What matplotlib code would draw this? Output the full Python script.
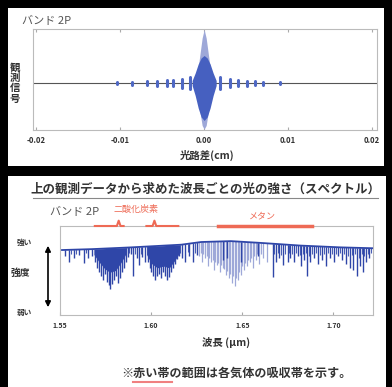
import numpy as np
import matplotlib
matplotlib.use('Agg')
import matplotlib.pyplot as plt
from matplotlib.patches import Rectangle, FancyArrowPatch
from matplotlib.lines import Line2D
import matplotlib.transforms as mtransforms

plt.rcParams['font.family'] = ['Noto Sans CJK JP', 'DejaVu Sans']

# ---- top panel: interferogram (optical path difference, cm) ----
opd_ticks = [-0.02, -0.01, 0.0, 0.01, 0.02]
opd_labels = ['-0.02', '-0.01', '0.00', '0.01', '0.02']

# centre burst, narrow light spike
spike_x = [-0.00072, -0.00048, -0.00024, 0.0, 0.00024, 0.00048, 0.00072]
spike_hi = [0.30, 0.60, 0.90, 1.07, 0.90, 0.60, 0.30]
spike_lo = [-0.30, -0.60, -0.85, -0.92, -0.85, -0.60, -0.30]

# centre burst, dark body
body_x = [-0.00143, -0.00107, -0.00071, -0.00036, 0.0, 0.00036, 0.00071, 0.00107, 0.00143]
body_hi = [0.05, 0.20, 0.38, 0.50, 0.55, 0.50, 0.38, 0.20, 0.05]
body_lo = [-0.05, -0.25, -0.50, -0.68, -0.75, -0.68, -0.50, -0.25, -0.05]

# small side bursts
burst_x = [-0.0104, -0.0086, -0.0068, -0.0056, -0.0044, -0.0037, -0.0026, -0.0017,
           0.0019, 0.0031, 0.0040, 0.0051, 0.0061, 0.0070, 0.0090]
burst_amp = [0.02, 0.03, 0.04, 0.05, 0.06, 0.06, 0.09, 0.12,
             0.12, 0.08, 0.06, 0.05, 0.04, 0.03, 0.02]

# ---- bottom panel: spectrum (wavelength, um) ----
wl_ticks = [1.55, 1.60, 1.65, 1.70]
wl_labels = ['1.55', '1.60', '1.65', '1.70']

cont_wl = [1.5511, 1.5674, 1.5892, 1.6165, 1.6274, 1.6437, 1.6601, 1.6819, 1.7037, 1.7217]
cont_lvl = [0.73, 0.74, 0.76, 0.79, 0.82, 0.83, 0.81, 0.78, 0.76, 0.75]

# strong dark absorption lines
dark_wl = [1.5527, 1.5549, 1.5576, 1.5604, 1.5631, 1.5653, 1.5674,
           1.5691, 1.5702, 1.5713, 1.5723, 1.5734, 1.5745, 1.5756, 1.5767, 1.5773,
           1.5783, 1.5794, 1.5805, 1.5816, 1.5827, 1.5838, 1.5849, 1.5860, 1.5871,
           1.5887, 1.5903, 1.5920, 1.5936, 1.5952, 1.5969,
           1.5980, 1.5991, 1.6001, 1.6012, 1.6023, 1.6034, 1.6045, 1.6056, 1.6067,
           1.6078, 1.6089, 1.6100, 1.6110, 1.6121, 1.6132, 1.6143, 1.6154,
           1.6170, 1.6187, 1.6209, 1.6230, 1.6252,
           1.6394, 1.6416, 1.6492, 1.6585,
           1.6666, 1.6683, 1.6704, 1.6726, 1.6748, 1.6764, 1.6786, 1.6803, 1.6824,
           1.6841, 1.6857, 1.6873, 1.6895, 1.6917, 1.6939, 1.6961, 1.6982, 1.7004,
           1.7026, 1.7048, 1.7070, 1.7091, 1.7108, 1.7130, 1.7146, 1.7162, 1.7179, 1.7195]
dark_bot = [0.66, 0.60, 0.64, 0.67, 0.58, 0.64, 0.66,
            0.60, 0.53, 0.48, 0.44, 0.39, 0.46, 0.37, 0.34, 0.29,
            0.35, 0.39, 0.44, 0.36, 0.42, 0.48, 0.53, 0.60, 0.65,
            0.69, 0.44, 0.64, 0.56, 0.65, 0.60,
            0.60, 0.53, 0.48, 0.44, 0.39, 0.44, 0.46, 0.42, 0.48,
            0.44, 0.39, 0.43, 0.48, 0.53, 0.57, 0.63, 0.66,
            0.64, 0.60, 0.66, 0.60, 0.67,
            0.62, 0.64, 0.60, 0.66,
            0.43, 0.60, 0.64, 0.56, 0.60, 0.64, 0.60, 0.66, 0.55,
            0.62, 0.44, 0.60, 0.64, 0.57, 0.62, 0.55, 0.64, 0.60,
            0.66, 0.62, 0.57, 0.53, 0.51, 0.44, 0.55, 0.48, 0.60, 0.64]

# weaker dark lines
weak_wl = [1.5560, 1.5590, 1.5640, 1.5880, 1.5910, 1.5945, 1.6160, 1.6200, 1.6240,
           1.6675, 1.6695, 1.6715, 1.6737, 1.6757, 1.6775, 1.6795, 1.6814, 1.6832,
           1.6850, 1.6865, 1.6884, 1.6906, 1.6928, 1.6950, 1.6972, 1.6993, 1.7015,
           1.7037, 1.7059, 1.7080, 1.7100, 1.7119, 1.7138, 1.7155, 1.7170, 1.7187, 1.7205]
weak_bot = [0.69, 0.68, 0.70, 0.70, 0.68, 0.69, 0.70, 0.71, 0.70,
            0.68, 0.70, 0.67, 0.69, 0.70, 0.68, 0.70, 0.67, 0.69,
            0.70, 0.66, 0.69, 0.70, 0.67, 0.69, 0.70, 0.68, 0.69,
            0.70, 0.68, 0.66, 0.67, 0.69, 0.64, 0.68, 0.66, 0.69, 0.70]

# methane region, fine light lines
light_wl = [1.6263, 1.6271, 1.6279, 1.6287, 1.6296, 1.6304, 1.6312, 1.6320, 1.6328,
            1.6337, 1.6345, 1.6353, 1.6361, 1.6369, 1.6377, 1.6385, 1.6394, 1.6402,
            1.6410, 1.6418, 1.6427, 1.6435, 1.6443, 1.6451, 1.6459, 1.6467, 1.6476,
            1.6484, 1.6492, 1.6500, 1.6508, 1.6516, 1.6525, 1.6533, 1.6541, 1.6549,
            1.6557, 1.6565, 1.6574, 1.6582, 1.6590, 1.6600, 1.6612, 1.6634]
light_bot = [0.66, 0.70, 0.60, 0.68, 0.64, 0.66, 0.55, 0.64, 0.60,
             0.62, 0.51, 0.60, 0.56, 0.58, 0.48, 0.56, 0.53, 0.52,
             0.45, 0.50, 0.42, 0.46, 0.36, 0.44, 0.33, 0.42, 0.39,
             0.48, 0.45, 0.55, 0.51, 0.58, 0.55, 0.62, 0.60, 0.64,
             0.53, 0.66, 0.62, 0.68, 0.57, 0.68, 0.64, 0.60]

# CO2 band envelopes
band1_wl = [1.5686, 1.5713, 1.5745, 1.5773, 1.5805, 1.5838, 1.5865]
band1_floor = [0.68, 0.60, 0.52, 0.48, 0.50, 0.60, 0.70]
band2_wl = [1.5975, 1.6001, 1.6034, 1.6067, 1.6100, 1.6132, 1.6160]
band2_floor = [0.68, 0.58, 0.53, 0.55, 0.53, 0.62, 0.71]

# absorption band markers (start, tip, end)
co2_a = [1.5691, 1.5822, 1.5849]
co2_b = [1.5974, 1.6018, 1.6149]
ch4 = [1.6367, 1.6884]

W, H = 392, 387
DARK = '#2f46a8'
LIGHT = '#9ea8d8'
RED = '#ee6a55'
TXT = '#333333'


def fx(x):
    return x / W


def fy(y):
    return 1 - y / H


fig = plt.figure(figsize=(W / 100, H / 100), dpi=100)
fig.patch.set_facecolor('black')
fig.add_artist(Rectangle((fx(8), fy(166)), fx(376), 158 / H, transform=fig.transFigure,
                         facecolor='white', edgecolor='none', zorder=0))
fig.add_artist(Rectangle((fx(8), 0), fx(378), (H - 176) / H, transform=fig.transFigure,
                         facecolor='white', edgecolor='none', zorder=0))

# ---------- top interferogram ----------
ax1 = fig.add_axes([fx(33), fy(130), fx(344), 101 / H])
ax1.set_xlim(-0.0204, 0.0206)
ax1.set_ylim(-0.94, 1.08)
ax1.axhline(0, color='#555555', lw=0.8, zorder=1)
ax1.fill_between(spike_x, spike_lo, spike_hi, color=LIGHT, lw=0, zorder=2)
ax1.fill_between(body_x, body_lo, body_hi, color='#4660c0', lw=0, zorder=3)
bursts = ax1.vlines(burst_x, [-a for a in burst_amp], burst_amp, color='#4f68c4', lw=2.2, zorder=3)
bursts.set_capstyle('round')
ax1.set_xticks(opd_ticks)
ax1.set_xticklabels(opd_labels, fontsize=5.5, fontweight='bold', color=TXT)
ax1.set_yticks([])
ax1.tick_params(axis='x', direction='in', length=2, pad=4, color='#aaaaaa', top=True)
for s in ax1.spines.values():
    s.set_color('#bbbbbb')
    s.set_linewidth(0.8)

fig.text(fx(22), fy(21), 'バンド 2P', fontsize=8, color='#555555', va='center', ha='left',
         style='italic')
fig.text(fx(15), fy(83), '観\n測\n信\n号', fontsize=7.5, fontweight='bold', color=TXT,
         ha='center', va='center', linespacing=1.05)
fig.text(fx(207), fy(155), '光路差(cm)', fontsize=7.5, fontweight='bold', color=TXT,
         ha='center', va='center')

# ---------- bottom spectrum ----------
ax2 = fig.add_axes([fx(60), fy(315), fx(313), 89 / H])
ax2.set_xlim(1.5511, 1.7217)
ax2.set_ylim(0, 1)
ax2.fill_between(band1_wl, band1_floor, 1.0, color=DARK, lw=0, zorder=1)
ax2.fill_between(band2_wl, band2_floor, 1.0, color=DARK, lw=0, zorder=1)
ax2.vlines(light_wl, light_bot, 1.0, color=LIGHT, lw=0.9, zorder=1)
ax2.vlines(weak_wl, weak_bot, 1.0, color='#4a5fb5', lw=0.8, zorder=1.2)
ax2.vlines(dark_wl, dark_bot, 1.0, color=DARK, lw=1.0, zorder=1.5)
# white above the continuum hides the upper ends of the lines
ax2.fill_between(cont_wl, cont_lvl, 1.0, color='white', lw=0, zorder=2)
ax2.plot(cont_wl, cont_lvl, color=DARK, lw=1.3, zorder=3)
ax2.set_xticks(wl_ticks)
ax2.set_xticklabels(wl_labels, fontsize=5, fontweight='bold', color=TXT)
ax2.set_yticks([])
ax2.tick_params(axis='x', direction='in', length=2, pad=5, color='#aaaaaa')
for s in ax2.spines.values():
    s.set_color('#bbbbbb')
    s.set_linewidth(0.8)

trans = mtransforms.blended_transform_factory(ax2.transData, ax2.transAxes)
ax2.plot([co2_a[0], co2_a[1] - 0.001, co2_a[1], co2_a[1] + 0.001, co2_a[2]],
         [1.0, 1.0, 1.06, 1.0, 1.0], color=RED, lw=1.5, transform=trans, clip_on=False, zorder=5)
ax2.plot([co2_b[0], co2_b[1] - 0.001, co2_b[1], co2_b[1] + 0.001, co2_b[2]],
         [1.0, 1.0, 1.06, 1.0, 1.0], color=RED, lw=1.5, transform=trans, clip_on=False, zorder=5)
ax2.plot(ch4, [1.0, 1.0], color=RED, lw=2.5, transform=trans, clip_on=False, zorder=5)

fig.text(fx(136), fy(209), '二酸化炭素', fontsize=6.5, color=RED, ha='center', va='center')
fig.text(fx(262), fy(216), 'メタン', fontsize=6.5, color=RED, ha='center', va='center')

fig.text(fx(205), fy(189), '上の観測データから求めた波長ごとの光の強さ（スペクトル）', fontsize=9,
         fontweight='bold', color=TXT, ha='center', va='center')
fig.add_artist(Line2D([fx(33), fx(378)], [fy(198), fy(198)], color='#888888', lw=0.8,
                      transform=fig.transFigure))
fig.text(fx(50), fy(212), 'バンド 2P', fontsize=8, color='#555555', ha='left', va='center',
         style='italic')

fig.text(fx(24), fy(242), '強い', fontsize=5.5, fontweight='bold', color=TXT, ha='center', va='center')
fig.text(fx(20), fy(273), '強度', fontsize=7, fontweight='bold', color=TXT, ha='center', va='center')
fig.text(fx(24), fy(312), '弱い', fontsize=5.5, fontweight='bold', color=TXT, ha='center', va='center')
fig.add_artist(FancyArrowPatch((fx(48), fy(243)), (fx(48), fy(310)),
                               transform=fig.transFigure, arrowstyle='<|-|>',
                               mutation_scale=8, lw=1.2, color='black'))

fig.text(fx(226), fy(342), '波長 (μm)', fontsize=7.5, fontweight='bold', color=TXT,
         ha='center', va='center')
fig.text(fx(236), fy(373), '※赤い帯の範囲は各気体の吸収帯を示す。', fontsize=8.7, fontweight='bold',
         color=TXT, ha='center', va='center')
fig.add_artist(Line2D([fx(133), fx(172)], [fy(382), fy(382)], color='#f08080', lw=1.5,
                      transform=fig.transFigure))

fig.savefig('out.png', dpi=100, facecolor=fig.get_facecolor())
